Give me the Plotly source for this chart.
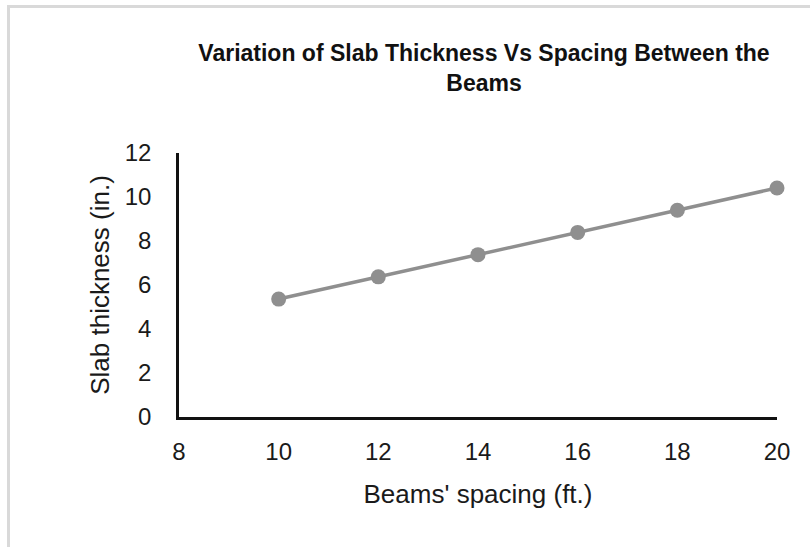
import plotly.graph_objects as go

spacing_ft = [10, 12, 14, 16, 18, 20]
slab_thickness_in = [5.36, 6.37, 7.38, 8.39, 9.40, 10.41]

x_ticks = [8, 10, 12, 14, 16, 18, 20]
y_ticks = [0, 2, 4, 6, 8, 10, 12]

title_text = "Variation of Slab Thickness Vs Spacing Between the<br>Beams"
x_title = "Beams' spacing (ft.)"
y_title = "Slab thickness (in.)"

FONT = "Liberation Sans, Arial, sans-serif"

fig = go.Figure()
fig.add_trace(go.Scatter(
    x=spacing_ft, y=slab_thickness_in, mode="lines+markers",
    line=dict(color="#8f8f8f", width=3.5),
    marker=dict(color="#8f8f8f", size=15),
    showlegend=False, cliponaxis=False, hoverinfo="skip",
))

W, H = 810, 547
L, R, T, B = 179, 33, 153, 130
pw, ph = W - L - R, H - T - B

def px_x(p):
    return (p - L) / pw

def px_y(p):
    return (H - B - p) / ph

border = dict(color="#d9d9d9", width=3)
fig.add_shape(type="line", xref="paper", yref="paper",
              x0=px_x(7), x1=px_x(812), y0=px_y(6.5), y1=px_y(6.5), line=border)
fig.add_shape(type="line", xref="paper", yref="paper",
              x0=px_x(8.5), x1=px_x(8.5), y0=px_y(5), y1=px_y(550), line=border)

fig.update_layout(
    width=W, height=H,
    margin=dict(l=L, r=R, t=T, b=B),
    paper_bgcolor="white", plot_bgcolor="white",
    font=dict(family=FONT, color="#1a1a1a"),
    title=dict(text="<b>" + title_text + "</b>", xref="container", x=484 / W, xanchor="center",
               yref="container", y=1 - 61 / H, yanchor="middle",
               font=dict(family=FONT, size=23, color="#111111")),
    xaxis=dict(range=[8, 20], tickvals=x_ticks, showgrid=False, zeroline=False,
               showline=True, linecolor="#111111", linewidth=2.5,
               ticks="", ticklabelstandoff=11,
               tickfont=dict(size=24, color="#1a1a1a"),
               title=dict(text=x_title, font=dict(size=26, color="#1a1a1a"), standoff=22)),
    yaxis=dict(range=[0, 12], tickvals=y_ticks, showgrid=False, zeroline=False,
               showline=True, linecolor="#111111", linewidth=2.5,
               ticks="", ticklabelstandoff=20,
               tickfont=dict(size=24, color="#1a1a1a"),
               title=dict(text=y_title, font=dict(size=26, color="#1a1a1a"), standoff=8)),
)

fig.write_html("out.html", config={"displayModeBar": False},
               post_script="document.body.style.margin='0';document.body.style.overflow='hidden';")
